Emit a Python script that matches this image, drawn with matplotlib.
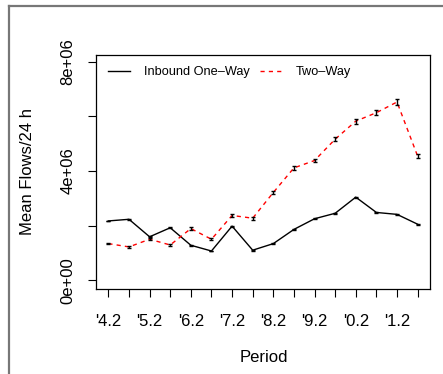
import matplotlib
matplotlib.use("Agg")
import matplotlib.pyplot as plt
from matplotlib.lines import Line2D
import numpy as np

plt.rcParams['font.family'] = ['Liberation Sans', 'DejaVu Sans']

# ---- data ----
period_labels = ["'4.2", "", "'5.2", "", "'6.2", "", "'7.2", "",
                 "'8.2", "", "'9.2", "", "'0.2", "", "'1.2", ""]
inbound_one_way = [2.17e6, 2.23e6, 1.59e6, 1.92e6, 1.28e6, 1.07e6, 1.98e6, 1.10e6,
                   1.34e6, 1.86e6, 2.25e6, 2.45e6, 3.04e6, 2.48e6, 2.41e6, 2.05e6]
inbound_err = [0.015e6, 0.015e6, 0.015e6, 0.015e6, 0.015e6, 0.015e6, 0.015e6, 0.015e6,
               0.015e6, 0.015e6, 0.015e6, 0.02e6, 0.02e6, 0.02e6, 0.02e6, 0.02e6]
two_way = [1.34e6, 1.22e6, 1.50e6, 1.29e6, 1.89e6, 1.50e6, 2.37e6, 2.27e6,
           3.21e6, 4.11e6, 4.38e6, 5.16e6, 5.82e6, 6.13e6, 6.52e6, 4.54e6]
two_way_err = [0.03e6, 0.03e6, 0.03e6, 0.03e6, 0.04e6, 0.04e6, 0.06e6, 0.05e6,
               0.07e6, 0.07e6, 0.07e6, 0.08e6, 0.09e6, 0.09e6, 0.10e6, 0.08e6]
y_ticks = [0, 2e6, 4e6, 6e6, 8e6]
y_tick_labels = ["0e+00", "", "4e+06", "", "8e+06"]
series_names = ["Inbound One\u2013Way", "Two\u2013Way"]

W, H = 443, 374
fig = plt.figure(figsize=(W / 100, H / 100), dpi=100)

# outer frame (gray)
fig.add_artist(Line2D([9 / W, 9 / W], [0, 1 - 6 / H], transform=fig.transFigure,
                      color='#777777', lw=1.6))
fig.add_artist(Line2D([9 / W, 1], [1 - 6 / H, 1 - 6 / H], transform=fig.transFigure,
                      color='#777777', lw=1.6))

left, right, top, bottom = 96, 430, 55, 289
ax = fig.add_axes([left / W, 1 - bottom / H, (right - left) / W, (bottom - top) / H])

x = np.arange(1, len(period_labels) + 1)

l1, = ax.plot(x, inbound_one_way, color='black', lw=1.0, zorder=3)
ax.errorbar(x, inbound_one_way, yerr=inbound_err, fmt='none', ecolor='black',
            elinewidth=1.0, capsize=1.6, capthick=1.0, zorder=4)
l2, = ax.plot(x, two_way, color='red', lw=1.0, dashes=(3, 3), zorder=3)
ax.errorbar(x, two_way, yerr=two_way_err, fmt='none', ecolor='black',
            elinewidth=1.0, capsize=1.6, capthick=1.0, zorder=4)

ax.set_xlim(0.4, 16.6)
ax.set_ylim(-0.32e6, 8.24e6)

ax.set_xticks(x)
ax.set_xticklabels(period_labels, fontsize=12)
ax.set_yticks(y_ticks)
ax.set_yticklabels(y_tick_labels, fontsize=12, rotation=90, va='center')
ax.tick_params(axis='x', length=6, width=0.8, pad=12)
ax.tick_params(axis='y', length=6, width=0.8, pad=9)
for s in ax.spines.values():
    s.set_linewidth(0.9)
    s.set_color('black')

fig.text(28 / W, 1 - 171 / H, "Mean Flows/24 h", rotation=90, ha='center', va='center',
         fontsize=12)
fig.text(264 / W, 1 - 357 / H, "Period", ha='center', va='center', fontsize=12)

leg = ax.legend([l1, l2], series_names, ncol=2, frameon=False, fontsize=9.2,
                loc='center left', bbox_to_anchor=(108 / W, 1 - 72 / H),
                bbox_transform=fig.transFigure, borderpad=0, borderaxespad=0,
                handlelength=1.75, handletextpad=1.05, columnspacing=0.85)

fig.savefig("out.png", dpi=100)
